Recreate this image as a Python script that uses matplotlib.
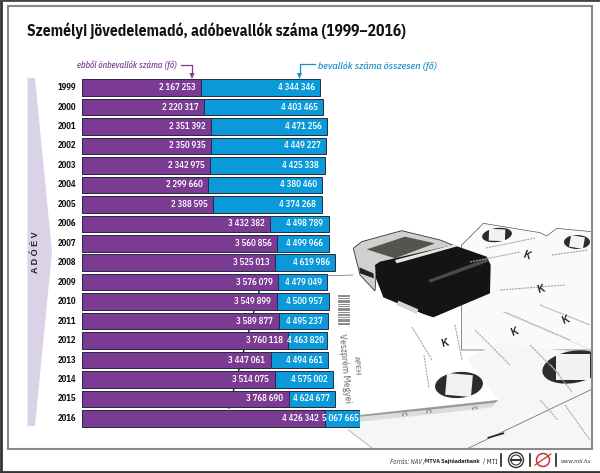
import matplotlib
matplotlib.use('Agg')
import matplotlib.pyplot as plt
from matplotlib.patches import Polygon, Ellipse, Circle, Rectangle
from matplotlib.transforms import Affine2D

# adatok
years = [1999, 2000, 2001, 2002, 2003, 2004, 2005, 2006, 2007, 2008,
         2009, 2010, 2011, 2012, 2013, 2014, 2015, 2016]
onbevallok = [2167253, 2220317, 2351392, 2350935, 2342975, 2299660, 2388595, 3432382, 3560856,
              3525013, 3576079, 3549899, 3589877, 3760118, 3447061, 3514075, 3768690, 4426342]
osszesen = [4344346, 4403465, 4471256, 4449227, 4425338, 4380460, 4374268, 4498789, 4499966,
            4619986, 4479049, 4500957, 4495237, 4463820, 4494661, 4575002, 4624677, 5067665]

PURPLE = '#7c3b93'
BLUE = '#0b9ad9'
EDGE = '#272a45'
plt.rcParams['font.family'] = ['IBM Plex Sans Condensed', 'Archivo Narrow', 'Liberation Sans', 'DejaVu Sans']


def fmt(v):
    return f'{v:,}'.replace(',', ' ')


fig = plt.figure(figsize=(6, 4.73), dpi=100, facecolor='white')

# hatter: keret es fenykep, pixelben
bg = fig.add_axes([0, 0, 1, 1], zorder=0)
bg.set_xlim(0, 600)
bg.set_ylim(473, 0)
bg.axis('off')


def z6(pts):
    return [(340 + x / 3, 210 + y / 3) for x, y in pts]


def z7(pts):
    return [(340 + x / 3, 330 + y / 3) for x, y in pts]


# hatso papirok
bg.add_patch(Polygon(z6([(365, 105), (430, 40), (600, 68), (620, 78), (650, 55), (755, 65), (755, 420), (365, 420)]),
                     fc='#fafafa', ec='#555555', lw=0.5))
bg.add_patch(Polygon(z7([(25, 300), (100, 357), (755, 357), (755, 70), (470, 40), (60, 255)]),
                     fc='#f6f6f6', ec='none'))
bg.plot(*zip(*z7([(380, 357), (755, 178)])), color='#777777', lw=0.6)
bg.plot(*zip(*z7([(445, 323), (490, 310)])), color='#222222', lw=1.2)
bg.plot(*zip(*z7([(25, 300), (100, 357)])), color='#aaaaaa', lw=0.6)
bg.plot(*zip(*z6([(485, 305), (755, 420)])), color='#dddddd', lw=0.6)

# elso papir, a savok mogott
paper = [(262, 277), (353, 275), (420, 300), (499, 400), (360, 415), (225, 430)]
bg.add_patch(Polygon(paper, fc='white', ec='none'))
bg.plot([229, 262], [408, 280], color='#222222', lw=1.0)
bg.plot([262, 353], [277.5, 275], color='#666666', lw=0.5)
# papir arnyeka
bg.add_patch(Polygon(z7([(60, 255), (475, 210), (455, 232), (300, 250), (60, 275)]), fc='#dcdcdc', ec='none'))
bg.add_patch(Polygon(z7([(60, 255), (475, 210), (465, 218), (300, 236), (60, 260)]), fc='#9a9a9a', ec='none'))
for mark_x, mark_y in [(190, 250), (260, 243), (400, 232)]:
    bg.text(340 + mark_x / 3, 330 + mark_y / 3, 'C', fontsize=5, color='#444444', rotation=-80,
            ha='center', va='center')

# vonalkod
for y0, h in [(295, 2), (298, 1), (300, 3), (304, 1), (306, 1), (308, 3), (312, 1), (314, 2), (317, 1), (319, 3), (323, 2)]:
    bg.add_patch(Rectangle((337.5, y0), 12, h, fc='#8f8f8f', ec='none'))

# szurke kisbetus sorok a papirokon
smudges = [((470, 262), (520, 252)), ((486, 248), (535, 238)), ((552, 255), (588, 250)),
           ((500, 290), (565, 285)), ((540, 305), (590, 325)), ((505, 312), (570, 340)),
           ((475, 330), (510, 365)), ((455, 325), (462, 360)), ((530, 345), (560, 375)),
           ((412, 327), (432, 360)), ((424, 355), (429, 388)), ((551, 365), (572, 392)),
           ((565, 405), (590, 440)), ((540, 400), (558, 420))]
for a, b in smudges:
    bg.plot([a[0], b[0]], [a[1], b[1]], color='#a8a8a8', lw=0.8, ls=(0, (2, 0.7)))

for kx, ky, rot in [(527, 255, -20), (541, 289, 15), (566, 320, 20), (515, 332, 20), (445, 343, 15)]:
    bg.text(kx, ky, 'K', fontsize=7, fontweight='bold', color='#222222', rotation=rot,
            ha='center', va='center', family='Liberation Sans')
bg.text(345, 368, 'Veszprém Megyei', fontsize=7, color='#666666', rotation=-85, ha='center', va='center')
bg.text(357, 365, 'APEH', fontsize=6, color='#666666', rotation=-85, ha='center', va='center')

# korbelyegzok
for cx, cy, w, h, rot in [(459, 385, 48, 26, -5), (573, 367, 62, 32, -10), (497, 235, 30, 14, -8), (577, 242, 26, 14, 0)]:
    bg.add_patch(Ellipse((cx, cy), w, h, angle=rot, fc='#2c2c2c', ec='none'))
    tr = Affine2D().rotate_deg_around(cx, cy, rot + 10) + bg.transData
    bg.add_patch(Rectangle((cx - w * 0.27, cy - h * 0.42), w * 0.54, h * 0.84, fc='#f2f2f2', ec='none', transform=tr))

# belyegzo
bg.add_patch(Polygon(z6([(40, 115), (65, 95), (185, 62), (300, 90), (345, 108), (110, 170), (105, 243), (60, 195)]),
                     fc='#d0d0d0', ec='#333333', lw=0.6))
bg.add_patch(Polygon(z6([(80, 118), (195, 80), (285, 100), (165, 145)]), fc='#55554e', ec='none'))
bg.add_patch(Polygon(z6([(58, 172), (100, 190), (102, 205), (60, 190)]), fc='#222222', ec='none'))
bg.add_patch(Polygon(z6([(105, 165), (120, 155), (340, 105), (440, 140), (452, 165), (450, 250), (280, 322),
                         (250, 312), (130, 262), (108, 205)]), fc='#141414', ec='none'))
bg.add_patch(Polygon(z6([(265, 210), (440, 145), (446, 155), (270, 218)]), fc='#4b4b4b', ec='none'))
bg.add_patch(Polygon(z6([(165, 150), (345, 103), (355, 108), (170, 160)]), fc='#e6e6e6', ec='none'))
bg.add_patch(Polygon(z6([(175, 272), (235, 298), (230, 312), (170, 285)]), fc='#d5d5d5', ec='none'))

# keret
bg.add_patch(Rectangle((592, 7), 8, 443, fc='white', ec='none', zorder=4))
bg.add_patch(Rectangle((7.5, 6.5), 584.5, 442.5, fc='none', ec='#8a8a8a', lw=1.5, zorder=5))
bg.plot([0.5, 0.5], [0, 473], color='#333333', lw=2, zorder=6)
bg.plot([0, 600], [0.5, 0.5], color='#444444', lw=2, zorder=6)
bg.plot([0, 600], [472, 472], color='#333333', lw=2, zorder=6)
bg.add_patch(Rectangle((9, 450), 583, 21, fc='white', ec='none', zorder=4))

# ADOEV nyil
bg.add_patch(Polygon([(27.5, 78), (35, 78), (52, 252), (35, 426), (27.5, 426)], fc='#dad2e6', ec='none'))
bg.text(36, 252, 'A D Ó É V', rotation=90, ha='center', va='center', fontsize=6.5, fontweight='bold',
        color='#222222', family=['Liberation Sans', 'DejaVu Sans'])

# savok
ax = fig.add_axes([82 / 600, 1 - 428.1 / 473, 278 / 600, 350.2 / 473], zorder=2)
ax.patch.set_alpha(0)
ax.set_xlim(0, 278 / 5.48e-5)
ax.set_ylim(len(years) - 0.5, -0.5)
ax.axis('off')
pos = list(range(len(years)))
ax.barh(pos, osszesen, height=0.85, color=BLUE, edgecolor=EDGE, linewidth=0.7)
ax.barh(pos, onbevallok, height=0.85, color=PURPLE, edgecolor=EDGE, linewidth=0.7)

# feliratok a savokon
tight = {2012: -3, 2016: -0.5}
for i, yr in enumerate(years):
    ax.annotate(str(yr), (0, i), xytext=(-15, 0), textcoords='offset pixels', ha='center', va='center',
                fontsize=6.2, fontweight='bold', color='#111111', annotation_clip=False)
    ax.annotate(fmt(onbevallok[i]), (onbevallok[i], i), xytext=(-5.5, 0), textcoords='offset pixels',
                ha='right', va='center', fontsize=6.3, color='white', fontweight='semibold')
    ax.annotate(fmt(osszesen[i]), (osszesen[i], i), xytext=(tight.get(yr, -5.5), 0), textcoords='offset pixels',
                ha='right', va='center', fontsize=6.3, color='white', fontweight='semibold')

# felso retegu szovegek
top = fig.add_axes([0, 0, 1, 1], zorder=3)
top.set_xlim(0, 600)
top.set_ylim(473, 0)
top.axis('off')
top.patch.set_alpha(0)

top.text(27, 31, 'Személyi jövedelemadó, adóbevallók száma (1999–2016)', fontsize=11.2, fontweight='bold',
         color='#111111', ha='left', va='center')

top.text(77, 65.5, 'ebből önbevallók száma (fő)', fontsize=6.2, style='italic', fontweight='medium', color=PURPLE,
         ha='left', va='center')
top.plot([181, 192, 192], [65, 65, 74], color=PURPLE, lw=0.9)
top.add_patch(Polygon([(189.5, 73), (194.5, 73), (192, 79)], fc=PURPLE, ec='none'))

top.text(318, 66, 'bevallók száma összesen (fő)', fontsize=7.2, style='italic', fontweight='medium', color='#1a8fc9',
         ha='left', va='center')
top.plot([315, 299.5, 299.5], [64, 64, 74], color='#1a8fc9', lw=0.9)
top.add_patch(Polygon([(297, 73), (302, 73), (299.5, 79)], fc='#1a8fc9', ec='none'))

# lablec
top.text(390, 461, 'Forrás: NAV /', fontsize=4.8, style='italic', color='#333333', ha='left', va='center')
top.text(425, 461, 'MTVA Sajtóadatbank', fontsize=4.4, fontweight='bold', color='#222222', ha='left', va='center')
top.text(483, 461, '/ MTI', fontsize=4.8, color='#222222', ha='left', va='center')
for sx in [501, 530, 556]:
    top.plot([sx, sx], [454, 466], color='#222222', lw=1.2)
top.add_patch(Circle((516, 460), 7.5, fc='white', ec='#333333', lw=1))
top.add_patch(Circle((516, 460), 5, fc='white', ec='#333333', lw=0.8))
top.plot([511, 521], [460, 460], color='#333333', lw=1.5)
top.add_patch(Circle((543, 460), 6.5, fc='white', ec='#c8352e', lw=1.1))
top.plot([535, 551], [465, 454], color='#c8352e', lw=0.9)
top.text(591, 461, 'www.mti.hu', fontsize=4.6, style='italic', color='#333333', ha='right', va='center')

fig.savefig('out.png', dpi=100)
